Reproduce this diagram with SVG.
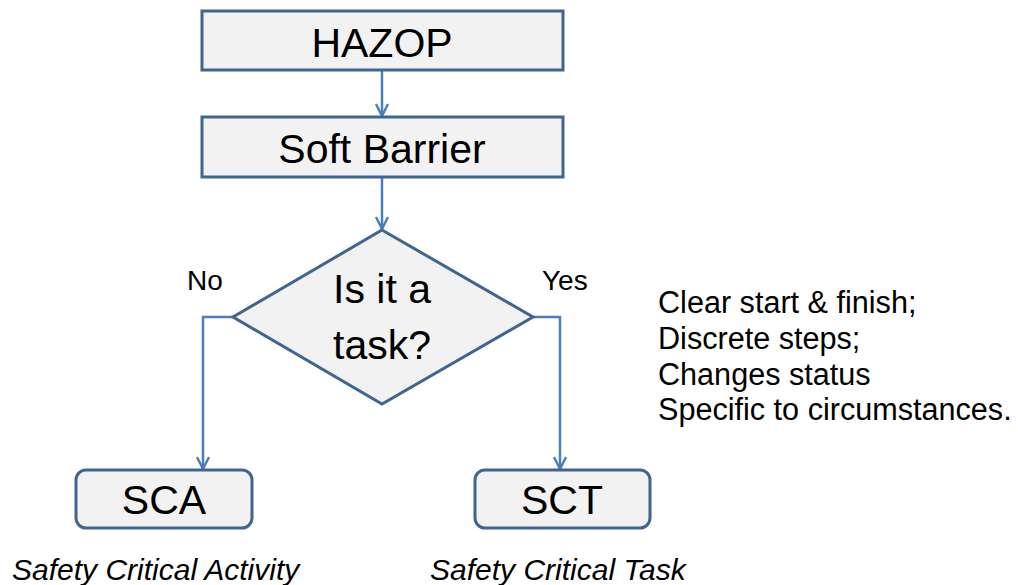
<svg xmlns="http://www.w3.org/2000/svg" width="1018" height="585" viewBox="0 0 1018 585">
<defs>
<marker id="arr" viewBox="0 0 14 14" refX="13" refY="7" markerWidth="14" markerHeight="14" markerUnits="userSpaceOnUse" orient="auto">
<path d="M1,1 L13,7 L1,13" fill="none" stroke="#4a7ebb" stroke-width="2.4"/>
</marker>
<style>
.box{fill:#f2f2f2;stroke:#3f6592;stroke-width:3}
.big{font-family:"Liberation Sans",Arial,sans-serif;font-size:41px;fill:#000;text-anchor:middle}
.lbl{font-family:"Liberation Sans",Arial,sans-serif;font-size:28px;fill:#000}
.note{font-family:"Liberation Sans",Arial,sans-serif;font-size:30.6px;fill:#000}
.it{font-family:"Liberation Sans",Arial,sans-serif;font-size:30px;font-style:italic;fill:#000}
.con{fill:none;stroke:#4a7ebb;stroke-width:2.5;marker-end:url(#arr)}
</style>
</defs>
<rect width="1018" height="585" fill="#fff"/>
<g id="connectors">
<path class="con" d="M382,70 L382,116"/>
<path class="con" d="M382,177 L382,229"/>
<path class="con" d="M233,317 L203,317 L203,469"/>
<path class="con" d="M533,317 L560,317 L560,469"/>
</g>
<g id="hazop">
<rect class="box" x="202" y="11" width="361" height="59"/>
<text class="big" x="382" y="57">HAZOP</text>
</g>
<g id="soft-barrier">
<rect class="box" x="202" y="117" width="361" height="60"/>
<text class="big" x="382" y="163">Soft Barrier</text>
</g>
<g id="decision">
<polygon class="box" points="382,230 533,317 382,404 233,317"/>
<text class="big" x="382" y="303">Is it a</text>
<text class="big" x="382" y="359">task?</text>
</g>
<g id="labels">
<text class="lbl" x="187" y="290">No</text>
<text class="lbl" x="542" y="290">Yes</text>
</g>
<g id="sca">
<rect class="box" x="76" y="470" width="176" height="58" rx="10"/>
<text class="big" x="164" y="514">SCA</text>
<text class="it" x="12" y="580">Safety Critical Activity</text>
</g>
<g id="sct">
<rect class="box" x="475" y="470" width="175" height="58" rx="10"/>
<text class="big" x="562" y="514">SCT</text>
<text class="it" x="430" y="580">Safety Critical Task</text>
</g>
<g id="criteria">
<text class="note" x="658" y="313">Clear start &amp; finish;</text>
<text class="note" x="658" y="349">Discrete steps;</text>
<text class="note" x="658" y="385">Changes status</text>
<text class="note" x="658" y="420">Specific to circumstances.</text>
</g>
</svg>
